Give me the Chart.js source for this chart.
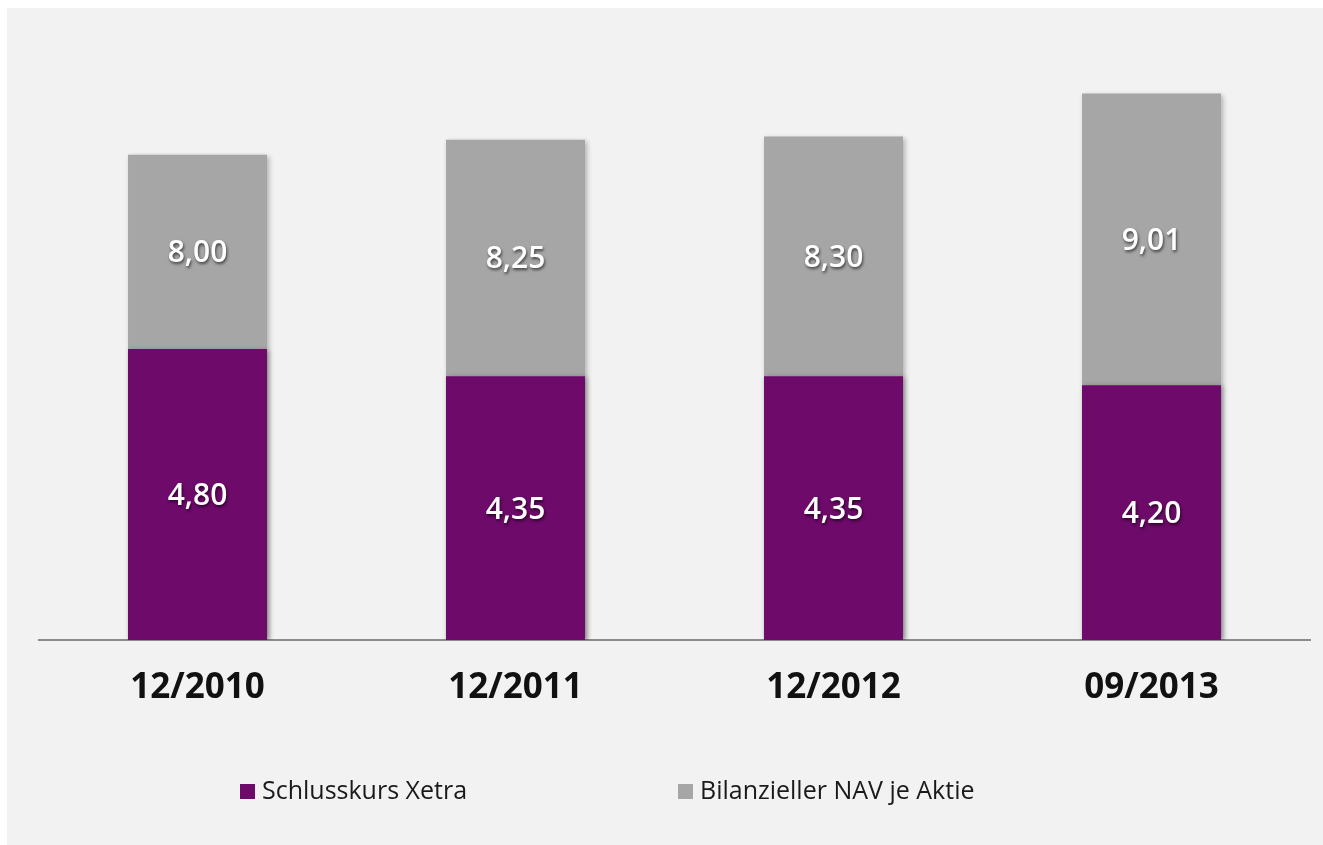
<!DOCTYPE html>
<html>
<head>
<meta charset="utf-8">
<script src="https://cdn.jsdelivr.net/npm/chart.js@4"></script>
<style>
    html, body { margin: 0; padding: 0; background: #ffffff; overflow: hidden; }
    #panel {
        position: fixed; left: 7px; top: 8px; right: 0; bottom: 0;
        background: #f2f2f2;
    }
    #chart { position: absolute; left: 0; top: 0; }
    #legend {
        position: absolute; left: 0; top: 764px; width: 1316px;
        font-family: "Open Sans", sans-serif; font-size: 25px; color: #1a1a1a;
    }
    .item { position: absolute; top: 0; white-space: nowrap; }
    .box { display: inline-block; width: 15px; height: 15px; margin-right: 7px; }
</style>
</head>
<body>
<div id="panel">
    <canvas id="chart" width="1316" height="837"></canvas>
    <div id="legend"></div>
</div>
<script>
const periods = ['12/2010', '12/2011', '12/2012', '09/2013'];
const closingPrice = [4.80, 4.35, 4.35, 4.20];
const navPerShare = [8.00, 8.25, 8.30, 9.01];
const seriesNames = ['Schlusskurs Xetra', 'Bilanzieller NAV je Aktie'];
const seriesColors = ['#6e0a6a', '#a6a6a6'];

function fmt(v) {
    return v.toFixed(2).replace('.', ',');
}

// soft shadow behind the bars
const barShadow = {
    id: 'barShadow',
    beforeDatasetsDraw(chart) {
        const ctx = chart.ctx;
        ctx.save();
        ctx.shadowColor = 'rgba(0,0,0,0.28)';
        ctx.shadowBlur = 5;
        ctx.shadowOffsetX = 2;
        ctx.shadowOffsetY = 1;
    },
    afterDatasetsDraw(chart) {
        chart.ctx.restore();
    }
};

// value labels in the middle of the visible part of each bar
const valueLabels = {
    id: 'valueLabels',
    afterDatasetsDraw(chart) {
        const ctx = chart.ctx;
        const front = chart.getDatasetMeta(0).data;
        const back = chart.getDatasetMeta(1).data;
        ctx.save();
        ctx.font = '600 30px "Open Sans", sans-serif';
        ctx.fillStyle = '#ffffff';
        ctx.textAlign = 'center';
        ctx.textBaseline = 'middle';
        ctx.shadowColor = 'rgba(0,0,0,0.6)';
        ctx.shadowBlur = 3;
        ctx.shadowOffsetX = 1;
        ctx.shadowOffsetY = 2;
        front.forEach((bar, i) => {
            ctx.fillText(fmt(closingPrice[i]), bar.x, (bar.y + bar.base) / 2 + 2);
            const b = back[i];
            ctx.fillText(fmt(navPerShare[i]), b.x, (b.y + bar.y) / 2 + 2);
        });
        ctx.restore();
    }
};

const chart = new Chart(document.getElementById('chart'), {
    type: 'bar',
    data: {
        labels: periods,
        datasets: [{
            label: seriesNames[0],
            data: closingPrice,
            backgroundColor: seriesColors[0]
        }, {
            label: seriesNames[1],
            data: navPerShare,
            backgroundColor: seriesColors[1]
        }]
    },
    options: {
        responsive: false,
        animation: false,
        events: [],
        barPercentage: 0.437,
        categoryPercentage: 1,
        layout: {
            padding: { left: 31.5, right: 12.5, top: 25.5, bottom: 135 }
        },
        scales: {
            x: {
                stacked: true,
                grid: { display: false, drawTicks: false },
                border: { display: true, color: '#8c8c8c', width: 2 },
                ticks: {
                    color: '#111111',
                    padding: 27,
                    font: { family: '"Open Sans", sans-serif', size: 35, weight: 'bold' }
                },
                afterFit(scale) { scale.height = 70; }
            },
            y: {
                stacked: false,
                display: false,
                min: 0,
                max: 10
            }
        },
        plugins: {
            legend: { display: false },
            tooltip: { enabled: false }
        }
    },
    plugins: [barShadow, valueLabels]
});

// legend below the chart
const legend = document.getElementById('legend');
const legendX = [233, 671];
seriesNames.forEach((name, i) => {
    const item = document.createElement('span');
    item.className = 'item';
    item.style.left = legendX[i] + 'px';
    const box = document.createElement('span');
    box.className = 'box';
    box.style.background = seriesColors[i];
    item.appendChild(box);
    item.appendChild(document.createTextNode(name));
    legend.appendChild(item);
});
</script>
</body>
</html>
